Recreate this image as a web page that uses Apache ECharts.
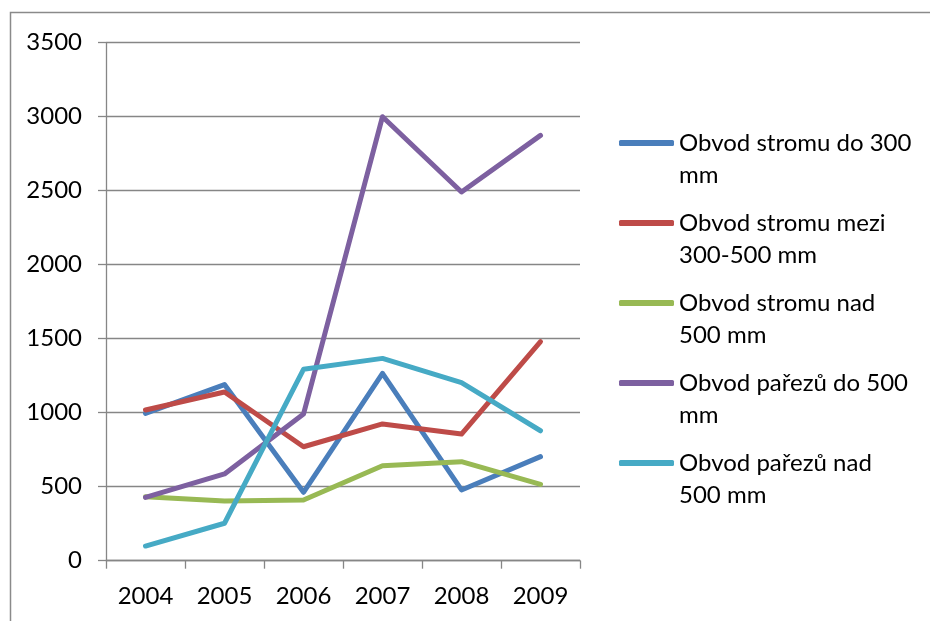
<!DOCTYPE html>
<html>
<head>
<meta charset="utf-8">
<script src="https://cdn.jsdelivr.net/npm/echarts@6/dist/echarts.min.js"></script>
<style>
  html, body { margin: 0; padding: 0; background: #fff; }
  #chart { width: 930px; height: 621px; }
</style>
</head>
<body>
<div id="chart"></div>
<script>
// Years on the category axis
const years = ['2004', '2005', '2006', '2007', '2008', '2009'];

// Series names (legend labels)
const seriesNames = [
  'Obvod stromu do 300\nmm',
  'Obvod stromu mezi\n300-500 mm',
  'Obvod stromu nad\n500 mm',
  'Obvod pařezů do 500\nmm',
  'Obvod pařezů nad\n500 mm'
];

// Values per series
const stromuDo300 = [995, 1190, 462, 1266, 478, 703];
const stromuMezi300500 = [1018, 1140, 770, 924, 856, 1480];
const stromuNad500 = [432, 403, 410, 642, 669, 516];
const parezuDo500 = [428, 586, 991, 3000, 2491, 2874];
const parezuNad500 = [99, 253, 1293, 1367, 1203, 878];

// Value axis ticks
const yMin = 0;
const yMax = 3500;
const yStep = 500;

const seriesValues = [stromuDo300, stromuMezi300500, stromuNad500, parezuDo500, parezuNad500];
const colors = ['#4A7EBB', '#BE4B48', '#98B954', '#7D60A0', '#46AAC5'];

const FONT = 'Lato';
const chart = echarts.init(document.getElementById('chart'), null, { renderer: 'canvas' });

chart.setOption({
  animation: false,
  backgroundColor: '#ffffff',
  color: colors,
  textStyle: { fontFamily: FONT, color: '#000' },
  graphic: [{
    type: 'rect',
    shape: { x: 10.5, y: 12.5, width: 1000, height: 700 },
    style: { fill: 'none', stroke: '#8a8a8a', lineWidth: 1.5 },
    silent: true
  }],
  grid: { left: 106, right: 350, top: 42.7, bottom: 60.3, containLabel: false },
  legend: {
    orient: 'vertical',
    left: 619,
    top: 95,
    padding: 0,
    itemWidth: 55,
    itemHeight: 6,
    itemGap: -16,
    icon: 'roundRect',
    // a blank first line keeps the swatch level with the label's first line
    formatter: name => ' \n' + name,
    textStyle: {
      fontFamily: FONT,
      fontSize: 24,
      color: '#000',
      lineHeight: 32
    },
    data: seriesNames
  },
  xAxis: {
    type: 'category',
    data: years,
    boundaryGap: true,
    axisLine: { lineStyle: { color: '#868686', width: 1.3 } },
    axisTick: { show: true, length: 8, lineStyle: { color: '#868686', width: 1.3 } },
    axisLabel: { fontFamily: FONT, fontSize: 24, color: '#000', margin: 24 },
    splitLine: { show: false }
  },
  yAxis: {
    type: 'value',
    min: yMin,
    max: yMax,
    interval: yStep,
    axisLine: { show: true, lineStyle: { color: '#868686', width: 1.3 } },
    axisTick: { show: true, length: 8, lineStyle: { color: '#868686', width: 1.3 } },
    axisLabel: { fontFamily: FONT, fontSize: 24, color: '#000', margin: 24, formatter: v => String(v) },
    splitLine: { show: true, lineStyle: { color: '#868686', width: 1.3 } }
  },
  series: seriesNames.map((name, i) => ({
    name: name,
    type: 'line',
    data: seriesValues[i],
    symbol: 'none',
    lineStyle: { width: 5, color: colors[i], cap: 'round', join: 'round' },
    itemStyle: { color: colors[i] }
  }))
});
</script>
</body>
</html>
